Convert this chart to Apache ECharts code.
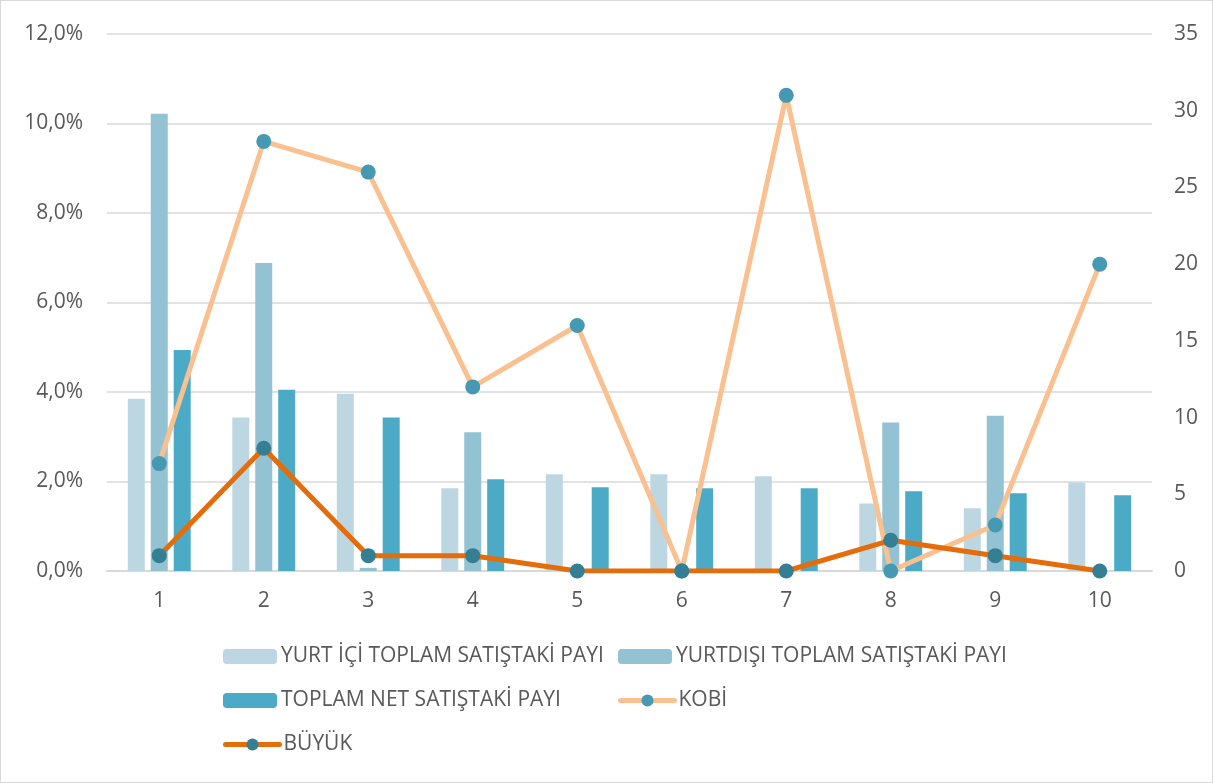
<!DOCTYPE html>
<html><head><meta charset="utf-8">
<script src="https://cdn.jsdelivr.net/npm/echarts@6/dist/echarts.min.js"></script>
<style>html,body{margin:0;padding:0;background:#fff}#c{width:1213px;height:783px;box-sizing:border-box;border:1px solid #d9d9d9}</style>
</head><body><div id="c"></div>
<script>
const categories = ['1','2','3','4','5','6','7','8','9','10'];
const yurtIci = [3.85, 3.43, 3.96, 1.85, 2.16, 2.16, 2.12, 1.51, 1.40, 1.98];
const yurtDisi = [10.22, 6.88, 0.07, 3.10, 0, 0, 0, 3.32, 3.47, 0];
const toplamNet = [4.94, 4.05, 3.43, 2.05, 1.87, 1.85, 1.85, 1.78, 1.74, 1.69];
const kobi = [7, 28, 26, 12, 16, 0, 31, 0, 3, 20];
const buyuk = [1, 8, 1, 1, 0, 0, 0, 2, 1, 0];
const names = ['YURT İÇİ TOPLAM SATIŞTAKİ PAYI','YURTDIŞI TOPLAM SATIŞTAKİ PAYI','TOPLAM NET SATIŞTAKİ PAYI','KOBİ','BÜYÜK'];

const font = 'Open Sans';
const txt = {color:'#595959', fontSize:21, fontFamily:font};
const chart = echarts.init(document.getElementById('c'));
function lg(name, left, top, isLine){
  const o = {data:[name], left:left, top:top, itemWidth:54, itemHeight:15, itemGap:0, padding:0,
    textStyle:Object.assign({},txt,{padding:[0,0,0,-1]}), selectedMode:false};
  if (isLine) o.lineStyle = {width:5, cap:'round'};
  return o;
}
chart.setOption({
  animation:false,
  grid:{left:106, right:60, top:33, bottom:211},
  legend:[lg(names[0],222,645), lg(names[1],617,645), lg(names[2],222,689), lg(names[3],617,689,true), lg(names[4],222,733,true)],
  xAxis:{type:'category', data:categories, axisTick:{show:false},
    axisLine:{lineStyle:{color:'#d9d9d9', width:2}}, axisLabel:Object.assign({margin:20},txt)},
  yAxis:[
    {type:'value', min:0, max:12, interval:2, axisLabel:Object.assign({margin:24, formatter:v=>v.toFixed(1).replace('.',',')+'%'},txt),
      splitLine:{lineStyle:{color:'#d9d9d9', width:1.5}}, axisLine:{show:false}},
    {type:'value', min:0, max:35, interval:5, axisLabel:Object.assign({margin:22},txt), splitLine:{show:false}, axisLine:{show:false}}
  ],
  series:[
    {name:names[0], type:'bar', data:yurtIci, barWidth:17, barGap:'35%', itemStyle:{color:'#BDD7E2'}},
    {name:names[1], type:'bar', data:yurtDisi, barWidth:17, barGap:'35%', itemStyle:{color:'#93C2D3'}},
    {name:names[2], type:'bar', data:toplamNet, barWidth:17, barGap:'35%', itemStyle:{color:'#4BABC6'}},
    {name:names[3], type:'line', yAxisIndex:1, data:kobi, symbol:'circle', symbolSize:15,
      lineStyle:{color:'#FAC090', width:5}, itemStyle:{color:'#4599B2'}},
    {name:names[4], type:'line', yAxisIndex:1, data:buyuk, symbol:'circle', symbolSize:15,
      lineStyle:{color:'#E46C0A', width:5}, itemStyle:{color:'#357F95'}}
  ]
});
</script></body></html>
